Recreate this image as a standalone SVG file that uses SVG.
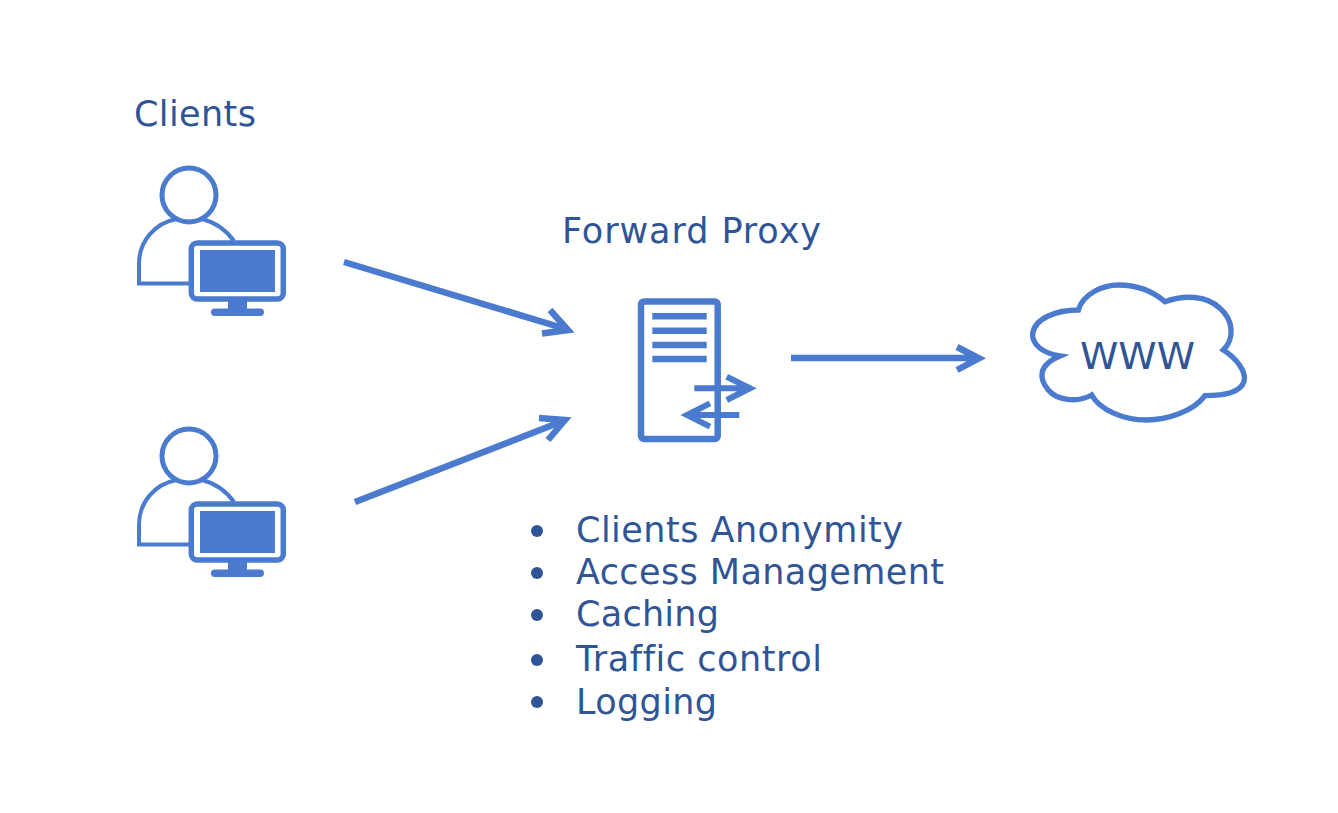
<svg xmlns="http://www.w3.org/2000/svg" width="1338" height="813" viewBox="0 0 1338 813">
<style>
text{font-family:"DejaVu Sans",Verdana,sans-serif;fill:#2F5597;font-size:35px;font-variant-ligatures:none}
.s{fill:none;stroke:#4A7BCF}
.f{fill:#4A7BCF}
.c{fill:none;stroke:#4A7BCF;stroke-width:6.500}
.d{fill:#2F5597}
</style>
<defs>
<g id="client">
<circle class="s" stroke-width="5" cx="189" cy="195" r="27"/>
<path class="s" stroke-width="4" d="M234 241C226 230 214 222 202 219M176.500 219C155 223 139 241 139 264V283.500H190"/>
<rect class="s" stroke-width="5.500" x="191.300" y="243" width="92" height="56" rx="6"/>
<rect class="f" x="200" y="250" width="75" height="42"/>
<rect class="f" x="228" y="301" width="19" height="9"/>
<rect class="f" x="211" y="308.500" width="53" height="7.500" rx="3.700"/>
</g>
</defs>
<rect width="1338" height="813" fill="#fff"/>
<g id="connectors">
<path class="c" d="M344 262L566 329M550 310L568 330L542 333.500"/>
<path class="c" d="M355 502L563 421M539 418L565 420L548 440"/>
<path class="c" d="M791 358H977M957 347L979 358.300L957 370"/>
</g>
<text x="134" y="126" textLength="122">Clients</text>
<g id="client-1"><use href="#client"/></g>
<g id="client-2"><use href="#client" y="261"/></g>
<text x="562" y="243" textLength="259">Forward Proxy</text>
<g id="proxy">
<rect class="s" stroke-width="6.500" x="641" y="301.500" width="76.700" height="137.600" rx="3"/>
<path class="s" stroke-width="6.500" d="M652.300 316.300H706.700M652.300 330.700H706.700M652.300 345H706.700M652.300 359H706.700"/>
<path class="s" stroke-width="6" d="M694.300 388.300H750M726.700 376.700L750 388.300L726.700 400M739.300 415H687M710 403.300L687 415L710 426.700"/>
</g>
<g id="www">
<path class="s" stroke-width="16" transform="translate(1020 275) scale(.3333)" d="M175 105C190 55 250 30 295 30C350 30 400 50 435 80C490 60 560 60 600 100C640 135 645 190 610 225C650 250 680 290 672 320C660 355 610 362 555 362C520 410 440 435 380 435C310 435 240 405 215 360C170 385 110 375 85 345C55 310 55 270 120 243C70 235 35 210 38 175C45 130 110 105 175 105Z"/>
<text x="1080" y="368.500" font-size="37" style="font-size:37px" textLength="115" lengthAdjust="spacingAndGlyphs">WWW</text>
</g>
<g id="features">
<circle class="d" cx="537" cy="531" r="6"/><text x="576" y="542" textLength="327">Clients Anonymity</text>
<circle class="d" cx="537" cy="573" r="6"/><text x="576" y="584" textLength="368">Access Management</text>
<circle class="d" cx="537" cy="615" r="6"/><text x="576" y="626" textLength="143">Caching</text>
<circle class="d" cx="537" cy="660" r="6"/><text x="576" y="671" textLength="246">Traffic control</text>
<circle class="d" cx="537" cy="702" r="6"/><text x="576" y="714" textLength="141">Logging</text>
</g>
</svg>
